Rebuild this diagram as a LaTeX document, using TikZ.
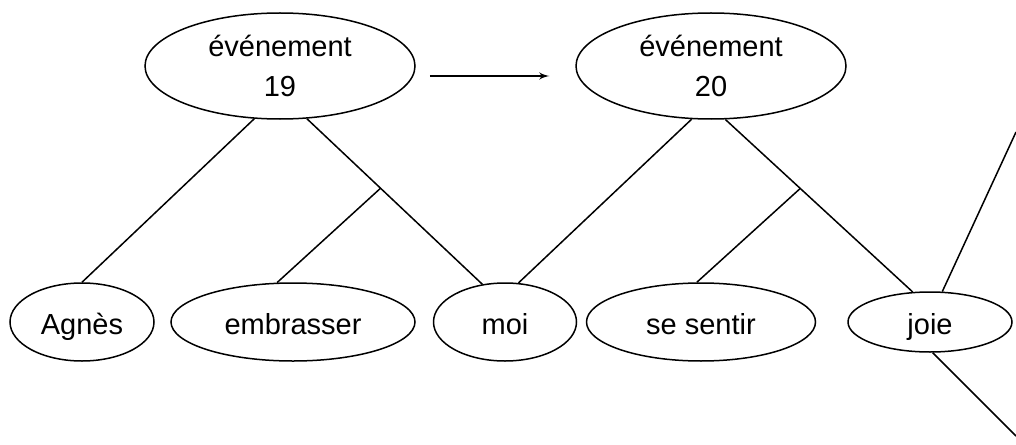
\documentclass[tikz,border=0pt]{standalone}
\usepackage{fontspec}
\setmainfont{Liberation Sans}
\usetikzlibrary{arrows, shapes.geometric}

\begin{document}
\begin{tikzpicture}[x=0.5pt,y=-0.5pt,>=latex',line width=0.75pt,
    evt/.style={ellipse,draw,align=center,inner sep=0pt,minimum width=135pt,minimum height=53pt,
      font=\fontsize{14.5}{20}\selectfont},
    word/.style={ellipse,draw,inner sep=0pt,minimum height=39pt,text height=12pt,text depth=0pt,
      font=\fontsize{14.5}{20}\selectfont}]
  \useasboundingbox (0,0) rectangle (1016,444);
  \node[evt]                                        (E19) at (280,66) {événement\\19};
  \node[evt, node distance=215.5pt, right of=E19]   (E20) {événement\\20};
  \node[word, minimum width=72pt]                   (Ag) at (82,322) {Agnès};
  \node[word, minimum width=122pt, node distance=105.5pt, right of=Ag]  (Emb) {embrasser};
  \node[word, minimum width=71.5pt, node distance=106pt, right of=Emb]  (Moi) {moi};
  \node[word, minimum width=114.5pt, node distance=98pt, right of=Moi]  (Sent) {se sentir};
  \node[word, minimum width=82pt, minimum height=30pt, node distance=114.5pt, right of=Sent] (Joie) {joie};
  \coordinate (OutA) at (1016,132);
  \coordinate (OutB) at (1016,436);
  \draw[->, shorten <=7pt, shorten >=13pt] ([yshift=-5pt]E19.east) -- ([yshift=-5pt]E20.west);
  \draw (E19.244) -- (Ag.north);
  \draw (E19.297) -- coordinate[pos=0.42] (B19) (Moi.121);
  \draw (B19) -- (Emb.112);
  \draw (E20.250) -- (Moi.71);
  \draw (E20.285) -- coordinate[pos=0.4] (B20) (Joie.120);
  \draw (B20) -- (Sent.96);
  \draw (Joie.68) -- (OutA);
  \draw (Joie.275) -- (OutB);
\end{tikzpicture}
\end{document}
